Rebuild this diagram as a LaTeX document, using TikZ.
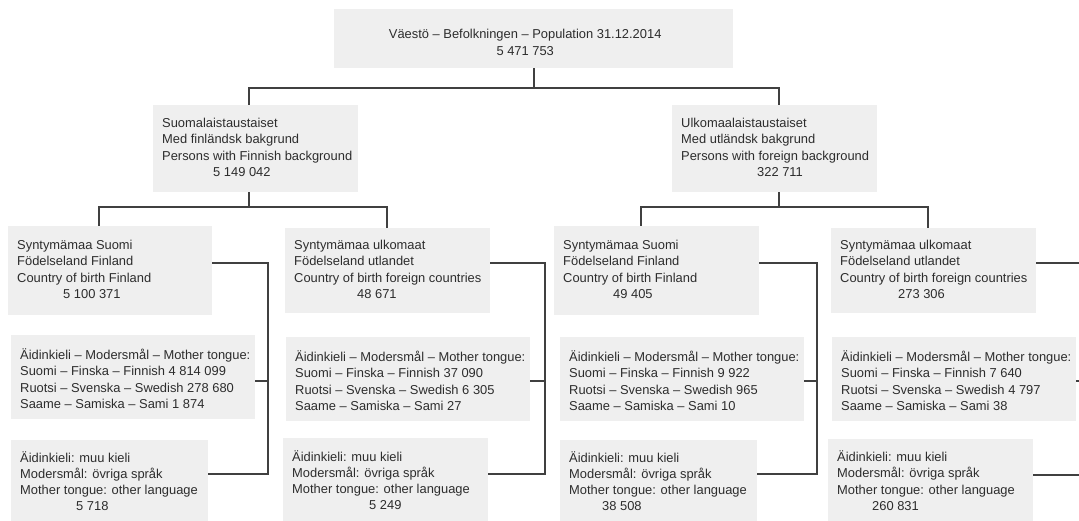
\documentclass[tikz,border=0pt]{standalone}
\usepackage{fontspec}
\setmainfont{Liberation Sans}
\usepackage{tikz}

\definecolor{boxgray}{RGB}{239,239,239}
\definecolor{linegray}{RGB}{64,64,64}
\definecolor{inkgray}{RGB}{45,45,45}
\newcommand{\cellfont}{\fontsize{12.9pt}{16.3pt}\selectfont}
\newcommand{\cellrows}[3][0pt]{\makebox[#2][l]{\raisebox{-#1}[\height][\depth]{%
  \begin{tabular}{@{}l@{}}#3\end{tabular}}}}

\begin{document}
\begin{tikzpicture}[
  x=1pt, y=-1pt,
  box/.style={fill=boxgray, text=inkgray, font=\cellfont, anchor=north west,
              inner xsep=9pt, inner ysep=0pt},
  link/.style={draw=linegray, line width=1.2pt}
]
\useasboundingbox (0,0) rectangle (1079,521);
\clip (0,0) rectangle (1079,521);

\node[box, minimum width=399, minimum height=59] (total) at (334,9)
  {\raisebox{-5pt}[\height][\depth]{\begin{tabular}{@{}c@{\hspace{17pt}}}%
  Väestö – Befolkningen – Population 31.12.2014\\5 471 753\end{tabular}}};

\node[box, minimum height=87] (finbg) at (153,105) {\cellrows{187pt}{Suomalaistaustaiset\\
  Med finländsk bakgrund\\Persons with Finnish background\\\hspace*{51pt}5 149 042}};
\node[box, minimum height=87] (forbg) at (672,105) {\cellrows{187pt}{Ulkomaalaistaustaiset\\
  Med utländsk bakgrund\\Persons with foreign background\\\hspace*{76pt}322 711}};

% born in Finland / abroad
\node[box, minimum height=89] (fiFi) at (8,226) {\cellrows{186pt}{Syntymämaa Suomi\\
  Födelseland Finland\\Country of birth Finland\\\hspace*{46pt}5 100 371}};
\node[box, minimum height=85] (fiAbr) at (285,228) {\cellrows{187pt}{Syntymämaa ulkomaat\\
  Födelseland utlandet\\Country of birth foreign countries\\\hspace*{63pt}48 671}};
\node[box, minimum height=89] (foFi) at (554,226) {\cellrows{187pt}{Syntymämaa Suomi\\
  Födelseland Finland\\Country of birth Finland\\\hspace*{50pt}49 405}};
\node[box, minimum height=85] (foAbr) at (831,228) {\cellrows{187pt}{Syntymämaa ulkomaat\\
  Födelseland utlandet\\Country of birth foreign countries\\\hspace*{58pt}273 306}};

% mother tongue
\node[box, minimum height=84] (fiFiLang) at (11,335) {\cellrows[3.5pt]{226pt}{Äidinkieli – Modersmål – Mother tongue:\\
  Suomi – Finska – Finnish 4 814 099\\Ruotsi – Svenska – Swedish 278 680\\Saame – Samiska – Sami 1 874}};
\node[box, minimum height=84] (fiAbrLang) at (286,337) {\cellrows[3.5pt]{226pt}{Äidinkieli – Modersmål – Mother tongue:\\
  Suomi – Finska – Finnish 37 090\\Ruotsi – Svenska – Swedish 6 305\\Saame – Samiska – Sami 27}};
\node[box, minimum height=84] (foFiLang) at (560,337) {\cellrows[3.5pt]{226pt}{Äidinkieli – Modersmål – Mother tongue:\\
  Suomi – Finska – Finnish 9 922\\Ruotsi – Svenska – Swedish 965\\Saame – Samiska – Sami 10}};
\node[box, minimum height=84] (foAbrLang) at (832,337) {\cellrows[3.5pt]{226pt}{Äidinkieli – Modersmål – Mother tongue:\\
  Suomi – Finska – Finnish 7 640\\Ruotsi – Svenska – Swedish 4 797\\Saame – Samiska – Sami 38}};

% other languages
\node[box, minimum height=86] (fiFiOther) at (11,440) {\cellrows{179pt}{Äidinkieli: muu kieli\\
  Modersmål: övriga språk\\Mother tongue: other language\\\hspace*{56pt}5 718}};
\node[box, minimum height=88] (fiAbrOther) at (283,438) {\cellrows{187pt}{Äidinkieli: muu kieli\\
  Modersmål: övriga språk\\Mother tongue: other language\\\hspace*{77pt}5 249}};
\node[box, minimum height=86] (foFiOther) at (560,440) {\cellrows{179pt}{Äidinkieli: muu kieli\\
  Modersmål: övriga språk\\Mother tongue: other language\\\hspace*{33pt}38 508}};
\node[box, minimum height=87] (foAbrOther) at (828,439) {\cellrows{187pt}{Äidinkieli: muu kieli\\
  Modersmål: övriga språk\\Mother tongue: other language\\\hspace*{35pt}260 831}};

% tree
\coordinate (stem0) at (534,88);
\coordinate (busL) at (249,207);
\coordinate (busR) at (779,207);
\coordinate (dropA) at (99,207);
\coordinate (dropB) at (387,207);
\coordinate (dropC) at (641,207);
\coordinate (dropD) at (928,207);
\draw[link] (total.south -| stem0) -- (stem0);
\draw[link] (finbg.north -| busL) -- (busL |- stem0) -- (busR |- stem0) -- (forbg.north -| busR);
\draw[link] (finbg.south -| busL) -- (busL);
\draw[link] (forbg.south -| busR) -- (busR);
\draw[link] (fiFi.north -| dropA) -- (dropA) -- (dropB) -- (fiAbr.north -| dropB);
\draw[link] (foFi.north -| dropC) -- (dropC) -- (dropD) -- (foAbr.north -| dropD);

% brackets
\coordinate (brA1) at (268,263); \coordinate (brA2) at (268,381); \coordinate (brA3) at (268,474);
\coordinate (brB1) at (545,263); \coordinate (brB2) at (545,381); \coordinate (brB3) at (545,474);
\coordinate (brC1) at (817,263); \coordinate (brC2) at (817,381); \coordinate (brC3) at (817,474);
\coordinate (brD1) at (1094,263); \coordinate (brD2) at (1094,381); \coordinate (brD3) at (1094,475);
\draw[link] (fiFi.east |- brA1) -- (brA1) -- (brA3) -- (fiFiOther.east |- brA3);
\draw[link] (fiFiLang.east |- brA2) -- (brA2);
\draw[link] (fiAbr.east |- brB1) -- (brB1) -- (brB3) -- (fiAbrOther.east |- brB3);
\draw[link] (fiAbrLang.east |- brB2) -- (brB2);
\draw[link] (foFi.east |- brC1) -- (brC1) -- (brC3) -- (foFiOther.east |- brC3);
\draw[link] (foFiLang.east |- brC2) -- (brC2);
\draw[link] (foAbr.east |- brD1) -- (brD1) -- (brD3) -- (foAbrOther.east |- brD3);
\draw[link] (foAbrLang.east |- brD2) -- (brD2);
\end{tikzpicture}
\end{document}
